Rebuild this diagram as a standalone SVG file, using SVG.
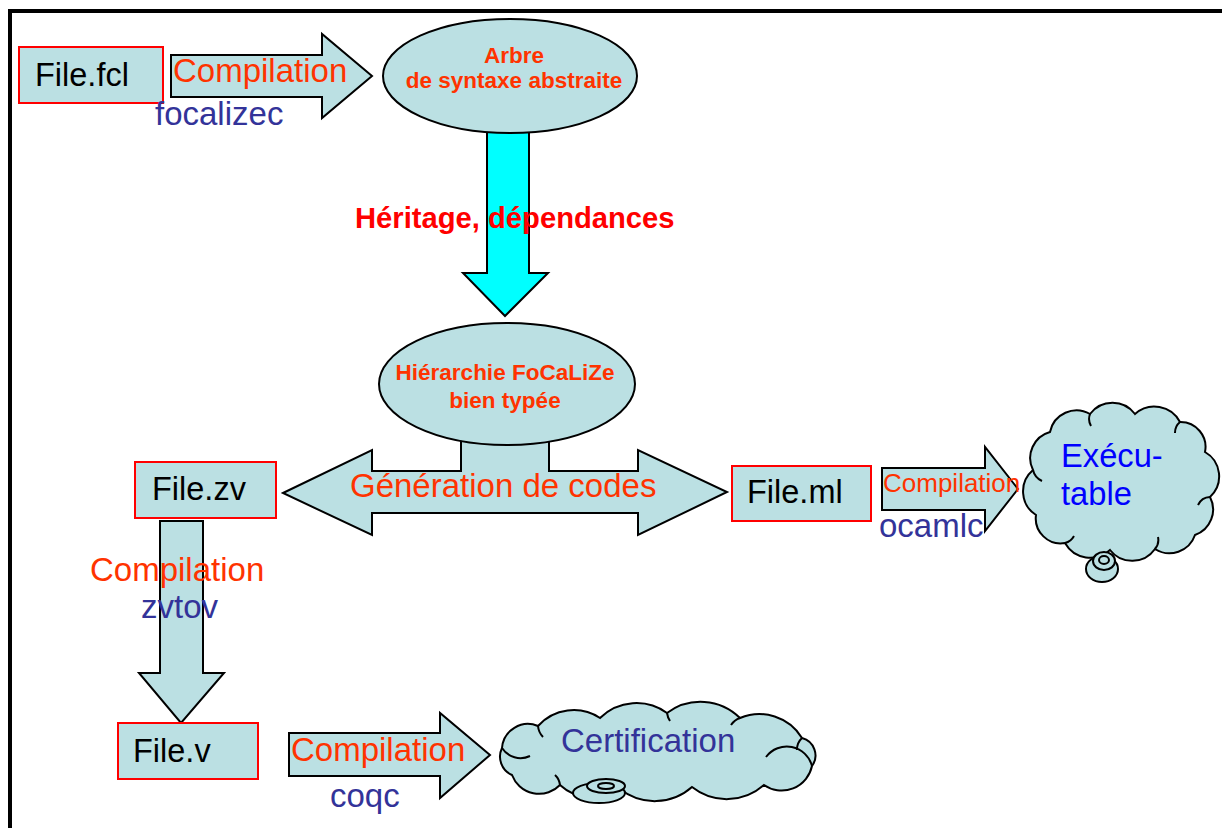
<svg xmlns="http://www.w3.org/2000/svg" width="1222" height="828" viewBox="0 0 1222 828">
<style>
.arr{fill:#bbe0e3;stroke:#000;stroke-width:2;stroke-linejoin:miter}
.box{fill:#bbe0e3;stroke:#ff0000;stroke-width:2}
.ell{fill:#bbe0e3;stroke:#000;stroke-width:2}
.cloud{fill:#bbe0e3;stroke:#000;stroke-width:2}
.inner{fill:none;stroke:#000;stroke-width:2}
text{font-family:"Liberation Sans",Arial,sans-serif}
.fn{font-size:32.5px;fill:#000}
.cmp{font-size:33px;fill:#ff3300}
.tool{font-size:33px;fill:#333399}
.bold{font-size:22.5px;font-weight:bold;fill:#ff3300;text-anchor:middle}
</style>
<rect x="0" y="0" width="1222" height="828" fill="#fff"/>
<path d="M10,828 V11 H1222" fill="none" stroke="#000" stroke-width="4"/>

<g id="connectors">
  <polygon class="arr" points="171,55 322,55 322,34 372,76 322,118 322,97 171,97"/>
  <polygon points="487,120 529,120 529,273 548,273 505,316 463,273 487,273" fill="#00ffff" stroke="#000" stroke-width="2"/>
  <polygon class="arr" points="283,493 372,450 372,471 461,471 461,420 549,420 549,471 638,471 638,450 727,492 638,535 638,513 372,513 372,535"/>
  <polygon class="arr" points="882,468 985,468 985,447 1018,489 985,531 985,510 882,510"/>
  <polygon class="arr" points="160,521 203,521 203,673 224,673 181,723 139,673 160,673"/>
  <polygon class="arr" points="289,733 440,733 440,713 490,755 440,798 440,776 289,776"/>
</g>

<g id="ast">
  <ellipse class="ell" cx="510" cy="76" rx="127" ry="57"/>
  <text class="bold" x="514" y="63">Arbre</text>
  <text class="bold" x="514" y="88">de syntaxe abstraite</text>
</g>

<g id="hierarchy">
  <ellipse class="ell" cx="507" cy="384" rx="128" ry="61"/>
  <text class="bold" x="505" y="380">Hiérarchie FoCaLiZe</text>
  <text class="bold" x="505" y="408">bien typée</text>
</g>

<g id="file-fcl">
  <rect class="box" x="19" y="47" width="144" height="56"/>
  <text class="fn" x="35" y="86">File.fcl</text>
</g>

<g id="file-zv">
  <rect class="box" x="135" y="462" width="141" height="56"/>
  <text class="fn" x="152" y="500">File.zv</text>
</g>

<g id="file-ml">
  <rect class="box" x="732" y="466" width="139" height="55"/>
  <text class="fn" x="747" y="503">File.ml</text>
</g>

<g id="file-v">
  <rect class="box" x="118" y="723" width="140" height="56"/>
  <text class="fn" x="133" y="762">File.v</text>
</g>

<g id="executable">
  <path class="cloud" d="M1036,515 A28,28 0 0 1 1033,470 A27,27 0 0 1 1050,432 A27,27 0 0 1 1090,414 A28,28 0 0 1 1135,414 A29,29 0 0 1 1180,422 A25,25 0 0 1 1205,452 A28,28 0 0 1 1210,497 A27,27 0 0 1 1195,535 A27,27 0 0 1 1155,549 A28,28 0 0 1 1110,550 A29,29 0 0 1 1065,543 A25,25 0 0 1 1036,515 Z"/>
  <path class="inner" d="M1033,470 A16,16 0 0 0 1042,481 M1090,414 A14,14 0 0 0 1091,426 M1180,422 A14,14 0 0 0 1175,433 M1210,497 A14,14 0 0 0 1198,505 M1155,549 A14,14 0 0 0 1158,537 M1065,543 A14,14 0 0 0 1074,536"/>
  <ellipse class="cloud" cx="1102" cy="569" rx="16" ry="13"/>
  <ellipse class="cloud" cx="1104" cy="561" rx="11" ry="9"/>
  <ellipse cx="1104" cy="560" rx="5" ry="4" class="inner"/>
  <text x="1061" y="467" font-size="32.7" fill="#0000ff">Exécu-</text>
  <text x="1061" y="505" font-size="32.7" fill="#0000ff">table</text>
</g>

<g id="certification">
  <path class="cloud" d="M512,775 A20,20 0 0 1 502,748 A26,26 0 0 1 538,726 A48,48 0 0 1 600,718 A52,52 0 0 1 667,713 A56,56 0 0 1 740,718 A50,50 0 0 1 802,738 A18,18 0 0 1 812,766 A31,31 0 0 1 764,785 A56,56 0 0 1 692,787 A56,56 0 0 1 620,789 A48,48 0 0 1 560,785 A29,29 0 0 1 512,775 Z"/>
  <path class="inner" d="M538,726 A18,18 0 0 0 543,737 M667,713 A20,20 0 0 0 670,721 M740,718 A18,18 0 0 0 731,725 M802,738 A16,16 0 0 0 797,750 M812,766 A26,26 0 0 0 766,757 M560,785 A16,16 0 0 0 555,775 M502,748 A22,22 0 0 0 530,756"/>
  <ellipse class="cloud" cx="599" cy="793" rx="26" ry="10"/>
  <ellipse class="cloud" cx="606" cy="786" rx="19" ry="7"/>
  <ellipse cx="606" cy="786" rx="8" ry="3" class="inner"/>
  <text x="561" y="752" font-size="33" fill="#333399">Certification</text>
</g>

<g id="labels">
  <text class="cmp" x="173" y="82">Compilation</text>
  <text class="tool" x="155" y="125">focalizec</text>
  <text x="355" y="228" font-size="29.2" font-weight="bold" fill="#ff0000">Héritage, dépendances</text>
  <text class="cmp" x="350" y="497">Génération de codes</text>
  <text x="883" y="492" font-size="26" fill="#ff3300">Compilation</text>
  <text class="tool" x="879" y="537">ocamlc</text>
  <text class="cmp" x="90" y="581">Compilation</text>
  <text class="tool" x="141" y="618">zvtov</text>
  <text class="cmp" x="291" y="761">Compilation</text>
  <text class="tool" x="330" y="807">coqc</text>
</g>
</svg>
